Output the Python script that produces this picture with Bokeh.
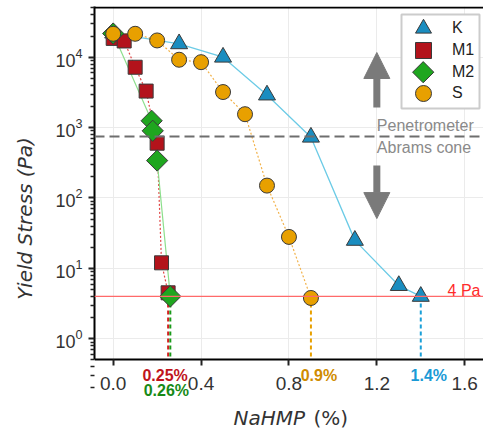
import math
from bokeh.plotting import figure
from bokeh.models import (FixedTicker, LogTickFormatter, PrintfTickFormatter, Span, Label,
                          Arrow, NormalHead, Legend, LegendItem, BoxAnnotation, Range1d,
                          LinearScale)
from bokeh.embed import file_html
from bokeh.resources import INLINE

# ---------------- data ----------------
K_x = [0.0, 0.3, 0.5, 0.7, 0.9, 1.1, 1.3, 1.4]
K_y = [22000, 15500, 10000, 2900, 730, 25, 5.7, 4.0]

M1_x = [0.0, 0.05, 0.1, 0.15, 0.2, 0.22, 0.25]
M1_y = [18500, 17000, 7200, 3300, 600, 12, 4.5]

M2_x = [0.0, 0.175, 0.18, 0.2, 0.26]
M2_y = [21700, 1250, 900, 340, 4.0]

S_x = [0.0, 0.1, 0.2, 0.3, 0.4, 0.5, 0.6, 0.7, 0.8, 0.9]
S_y = [21500, 21500, 17300, 9200, 8500, 3200, 1550, 150, 28, 3.8]

series_names = ["K", "M1", "M2", "S"]

threshold_stress = 4.0
threshold_x = [0.25, 0.26, 0.9, 1.4]
threshold_labels = ["0.25%", "0.26%", "0.9%", "1.4%"]

penetrometer_limit = 750
arrow_x = 1.2
arrow_up_y = [1930, 11660]
arrow_down_y = [290, 51]

x_ticks = [0.0, 0.4, 0.8, 1.2, 1.6]
y_ticks = [1, 10, 100, 1000, 10000]
y_minor = [m * 10 ** e for e in range(-1, 5) for m in range(2, 10)]

x_lo, x_hi = -0.0851, 1.6855
y_axis_base = 0.508      # where the x axis sits
y_top_spine = 50800
y_lo, y_hi = 0.0498, 52500

# ---------------- layout / style ----------------
FRAME_W, FRAME_H = 389, 424
C_K, L_K = "#1a8dc0", "#6ccbe6"
C_M1, L_M1 = "#b3131b", "#e04848"
C_M2, L_M2 = "#1fa61f", "#8ddf8d"
C_S, L_S = "#e8a000", "#f2b24a"
EDGE = "#3a3a3a"
thr_line_colors = ["#d42020", "#1a9a1a", "#e8a000", "#1aa0d8"]
thr_text_colors = ["#c0141c", "#178a17", "#d08c00", "#1a9ad6"]
thr_x_off = [-3, -4, 8, 8]
thr_y = [55, 40, 55, 55]
GRAY = "#7a7a7a"
SANS = "Liberation Sans"
TITLE_FONT = "DejaVu Sans"

# legend layout (pixels inside the frame, measured from frame left / frame top)
legend_glyph_x = 328.7
legend_row_top = [22.3 + 21.7 * i for i in range(4)]

p = figure(width=483, height=430, x_range=(x_lo, x_hi), y_range=(y_lo, y_hi),
           y_axis_type="log", output_backend="svg", toolbar_location=None,
           min_border_left=94, min_border_right=0, min_border_top=6, min_border_bottom=0)
# pixel ranges for the legend swatch that needs a rotated marker
p.extra_x_ranges = {"px": Range1d(0, FRAME_W)}
p.extra_y_ranges = {"py": Range1d(0, FRAME_H)}
p.extra_x_scales = {"px": LinearScale()}
p.extra_y_scales = {"py": LinearScale()}

p.outline_line_color = None
p.background_fill_color = "white"
p.border_fill_color = "white"

for ax in (p.xaxis[0], p.yaxis[0]):
    ax.axis_line_color = "black"
    ax.axis_line_width = 2
    ax.major_tick_line_color = "#222222"
    ax.major_tick_line_width = 2
    ax.major_tick_out = 6
    ax.major_tick_in = 0
    ax.major_label_text_font = SANS
    ax.major_label_text_color = "#333333"

p.xaxis.fixed_location = y_axis_base
p.xaxis.ticker = FixedTicker(ticks=x_ticks)
p.xaxis.formatter = PrintfTickFormatter(format="%.1f")
p.xaxis.minor_tick_out = 0
p.xaxis.minor_tick_in = 0
p.xaxis.major_label_standoff = 12
p.xaxis.major_label_text_font_size = "19px"

p.yaxis.bounds = (y_axis_base, y_hi)
p.yaxis.ticker = FixedTicker(ticks=y_ticks, minor_ticks=y_minor)
p.yaxis.formatter = LogTickFormatter()
p.yaxis.minor_tick_out = 4
p.yaxis.minor_tick_in = 0
p.yaxis.minor_tick_line_color = "#222222"
p.yaxis.minor_tick_line_width = 1.5
p.yaxis.major_label_standoff = 6
p.yaxis.major_label_text_font_size = "18px"
p.yaxis.axis_label = "Yield Stress (Pa)"
p.yaxis.axis_label_text_font = TITLE_FONT
p.yaxis.axis_label_text_font_style = "italic"
p.yaxis.axis_label_text_font_size = "20px"
p.yaxis.axis_label_text_color = "#333333"
p.yaxis.axis_label_standoff = 15

p.xgrid.grid_line_color = "#ebebeb"
p.ygrid.grid_line_color = "#ebebeb"
try:
    p.xgrid.cross_bounds = (y_axis_base, y_hi)
except Exception:
    p.add_layout(BoxAnnotation(top=y_axis_base, fill_color="white", fill_alpha=1,
                               line_alpha=0, level="underlay"))

# top spine
p.add_layout(Span(location=y_top_spine, dimension="width", line_color="black", line_width=2))

p.add_layout(Span(location=penetrometer_limit, dimension="width", line_color="#6e6e6e",
                  line_width=2, line_dash="10 5"))
p.add_layout(Span(location=threshold_stress, dimension="width", line_color="#ff6a6a",
                  line_width=1.2))

p.line(K_x, K_y, line_color=L_K, line_width=1.3)
p.line(M1_x, M1_y, line_color=L_M1, line_width=1.2, line_dash="2 2")
p.line(M2_x, M2_y, line_color=L_M2, line_width=1.2)
p.line(S_x, S_y, line_color=L_S, line_width=1.2, line_dash="2 2")

p.segment(x0=threshold_x, y0=[threshold_stress] * len(threshold_x),
          x1=threshold_x, y1=[y_axis_base] * len(threshold_x),
          line_color=thr_line_colors, line_width=2, line_dash="4 3")

rk = p.scatter(K_x, K_y, marker="triangle", size=17, fill_color=C_K,
               line_color=EDGE, line_width=1)
rm1 = p.scatter(M1_x, M1_y, marker="square", size=14, fill_color=C_M1,
                line_color=EDGE, line_width=1)
rm2 = p.scatter(M2_x, M2_y, marker="square", angle=math.pi / 4, size=15, fill_color=C_M2,
                line_color=EDGE, line_width=1)
rs = p.scatter(S_x, S_y, marker="circle", size=15, fill_color=C_S,
               line_color=EDGE, line_width=1)

p.add_layout(Arrow(end=NormalHead(size=26, fill_color=GRAY, line_color=GRAY),
                   x_start=arrow_x, y_start=arrow_up_y[0], x_end=arrow_x, y_end=arrow_up_y[1],
                   line_color=GRAY, line_width=7))
p.add_layout(Arrow(end=NormalHead(size=26, fill_color=GRAY, line_color=GRAY),
                   x_start=arrow_x, y_start=arrow_down_y[0], x_end=arrow_x, y_end=arrow_down_y[1],
                   line_color=GRAY, line_width=7))

p.add_layout(Label(x=arrow_x, y=penetrometer_limit, text="Penetrometer", y_offset=11,
                   text_baseline="middle", text_color="#8a8a8a", text_font=SANS,
                   text_font_size="16px"))
p.add_layout(Label(x=arrow_x, y=penetrometer_limit, text="Abrams cone", y_offset=-11,
                   text_baseline="middle", text_color="#8a8a8a", text_font=SANS,
                   text_font_size="16px"))
p.add_layout(Label(x=386, x_units="screen", y=threshold_stress, text="4 Pa", y_offset=6,
                   text_align="right", text_baseline="middle", text_color="#ff2a2a",
                   text_font=SANS, text_font_size="16px"))

for xv, t, c, dx, yy in zip(threshold_x, threshold_labels, thr_text_colors, thr_x_off, thr_y):
    p.add_layout(Label(x=xv, y=yy, y_units="screen", x_offset=dx, text=t, text_align="center",
                       text_baseline="middle", text_color=c, text_font=SANS,
                       text_font_style="bold", text_font_size="16px"))

# x-axis title (italic name, upright unit)
p.add_layout(Label(x=139, y=13, x_units="screen", y_units="screen", text="NaHMP",
                   text_baseline="middle", text_font=TITLE_FONT, text_font_style="italic",
                   text_font_size="20px", text_color="#333333"))
p.add_layout(Label(x=219, y=13, x_units="screen", y_units="screen", text="(%)",
                   text_baseline="middle", text_font=TITLE_FONT,
                   text_font_size="20px", text_color="#333333"))

# legend frame
p.add_layout(BoxAnnotation(left=307, right=385, top=416, bottom=322,
                           left_units="screen", right_units="screen",
                           top_units="screen", bottom_units="screen",
                           fill_color="white", fill_alpha=1,
                           line_color="#cccccc", line_width=2, line_alpha=1))

# M2 swatch: rotated square placed in frame pixel coordinates (legend layout)
m2_proxy = p.scatter(x=[], y=[], marker="square", size=15, fill_alpha=0, line_alpha=0)
p.scatter([legend_glyph_x], [FRAME_H - legend_row_top[2]], marker="square",
          angle=math.pi / 4, size=15, fill_color=C_M2, line_color=EDGE, line_width=1,
          x_range_name="px", y_range_name="py", level="overlay")

legend_renderers = [rk, rm1, m2_proxy, rs]
for i, (name, r) in enumerate(zip(series_names, legend_renderers)):
    bottom_y = FRAME_H - legend_row_top[i] - 20
    lg = Legend(items=[LegendItem(label=name, renderers=[r])],
                location=(round(legend_glyph_x - 20), round(bottom_y)),
                glyph_width=40, glyph_height=40,
                padding=0, margin=0, label_standoff=9,
                border_line_alpha=0, background_fill_alpha=0,
                label_text_font=SANS, label_text_font_size="16px",
                label_text_color="#222222")
    p.add_layout(lg)

open("out.html", "w").write(file_html(p, INLINE))
